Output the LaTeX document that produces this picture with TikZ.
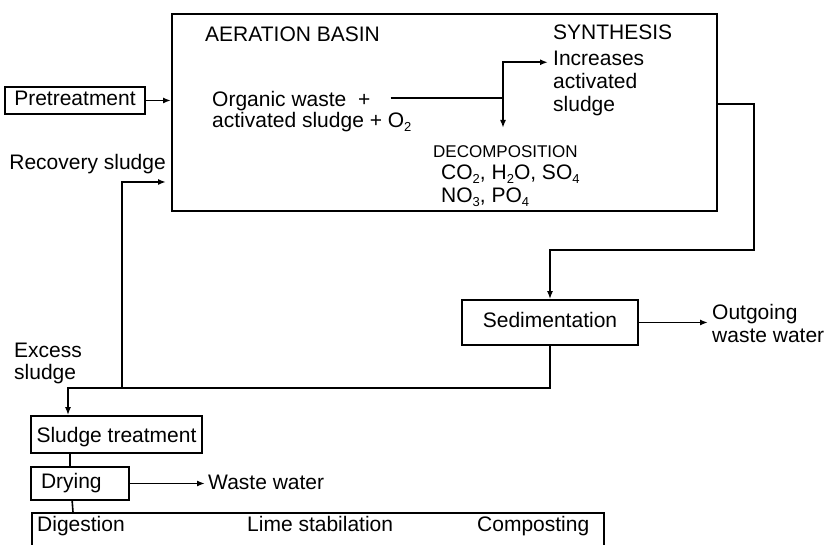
\documentclass[tikz,border=0pt]{standalone}
\usepackage{fontspec}
\setmainfont{Liberation Sans}
\usetikzlibrary{positioning, arrows.meta, calc}
\newcommand{\subnum}[1]{\raisebox{-0.3ex}{\fontsize{13}{13}\selectfont #1}}

\begin{document}
\begin{tikzpicture}[
    x=1pt, y=1pt,
    font=\fontsize{21}{23}\selectfont,
    box/.style={draw, line width=1.7pt, inner sep=0pt, text height=15pt, text depth=4pt},
    txt/.style={inner sep=0pt, align=left},
    small/.style={txt, font=\fontsize{17}{19}\selectfont},
    arr/.style={-{Latex[length=8pt, width=6pt]}, line width=1.6pt},
    wire/.style={line width=1.6pt}
]
\useasboundingbox (0,0) rectangle (829,545);

% Aeration basin
\node[draw, line width=1.7pt, minimum width=545, minimum height=197, anchor=north west] (basin) at (171,532) {};
\node[txt, anchor=base west] (aer) at (205,503) {AERATION BASIN};
\node[txt, anchor=base west] (orgA) at (212,438) {Organic waste \ +};
\node[txt, anchor=base west] (orgB) at ([yshift=-21pt]orgA.base west) {activated sludge + O\subnum{2}};
\node[txt, anchor=north west] (synth) at (553,520) {SYNTHESIS};
\node[txt, anchor=north west] (incr) at ([yshift=-11pt]synth.south west) {Increases\\activated\\sludge};
\node[small, anchor=north west] (decomp) at (433,400) {DECOMPOSITION};
\node[txt, anchor=north west] (prod) at (441,380) {CO\subnum{2}, H\subnum{2}O, SO\subnum{4}\\NO\subnum{3}, PO\subnum{4}};
\coordinate (split) at (503,447);

% Inflow
\node[box, minimum width=140, minimum height=27] (pre) at (75,444.5) {Pretreatment};
\node[txt, anchor=base east] (rec) at (166,375) {Recovery sludge};
\coordinate (rin) at (171,363);

% Sedimentation
\node[box, minimum width=176, minimum height=45] (sed) at (550,222.5) {Sedimentation};
\node[txt, anchor=north west] (outw) at (712,241) {Outgoing\\waste water};
\coordinate (turn) at (754,295);
\coordinate (bend) at (68,157);
\coordinate (rj) at (122,157);
\node[txt, anchor=north west, font=\fontsize{21}{22}\selectfont] (excess) at (14,202) {Excess\\sludge};

% Sludge line
\node[box, minimum width=171, minimum height=37, text height=21pt, text depth=4pt] (sludge) at (116.5,110.5) {Sludge treatment};
\node[box, minimum height=33, text width=78pt, inner xsep=10pt, align=left] (dry) at (80,61.5) {Drying};
\node[txt, anchor=base west] (ww) at (208,55) {Waste water};
\node[draw, line width=1.7pt, minimum width=572, minimum height=60, anchor=north west] (stab) at (31,33) {};
\node[txt, anchor=base west] (dig) at (37,13) {Digestion};
\node[txt, anchor=base west] (lime) at (247,13) {Lime stabilation};
\node[txt, anchor=base west] (comp) at (477,13) {Composting};

% Arrows
\draw[wire, shorten <=20pt] (orgA.east |- split) -- (split);
\draw[arr, shorten >=5pt] (split) |- ([yshift=-11pt]incr.north west);
\draw[arr, shorten >=17pt] (split) -- (split |- decomp.north);
\draw[arr] (pre.east) -- (pre.east -| basin.west);
\draw[arr] ([yshift=8.5pt]basin.east) -| (turn) -| (sed.north);
\draw[arr, shorten >=4pt] (sed.east) -- (sed.east -| outw.west);
\draw[arr] (sed.south) |- (bend) -- (bend |- sludge.north);
\draw[arr, shorten >=5pt] (rj) |- (rin);
\draw[wire] ([xshift=40pt]sludge.south west) -- ([xshift=40pt]dry.north west);
\draw[arr, shorten >=3pt] (dry.east) -- (dry.east -| ww.west);
\draw[wire] ([xshift=42pt]dry.south west) -- ([xshift=42pt]stab.north west);

\end{tikzpicture}
\end{document}
